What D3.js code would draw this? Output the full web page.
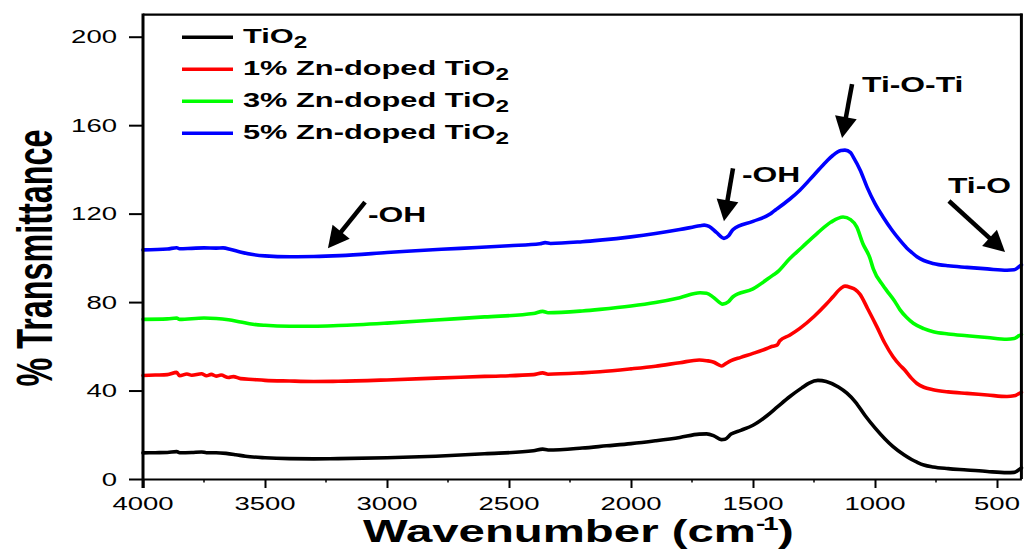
<!DOCTYPE html>
<html>
<head>
<meta charset="utf-8">
<script src="https://cdn.jsdelivr.net/npm/d3@7/dist/d3.min.js"></script>
<style>
  html, body { margin: 0; padding: 0; background: #fff; }
  svg { display: block; }
  text { font-family: "Liberation Sans", Arial, sans-serif; fill: #000; }
</style>
</head>
<body>
<svg id="chart" width="1024" height="549"></svg>
<script>
// FTIR spectra: [wavenumber (cm-1), % transmittance]
const tio2 = [
  [4000, 11.8], [3950, 11.9], [3900, 12.0], [3862, 12.4], [3850, 11.9], [3800, 12.0],
  [3760, 12.2], [3740, 11.9], [3700, 11.9], [3660, 11.6], [3620, 11.0], [3580, 10.3],
  [3500, 9.6], [3400, 9.2], [3300, 9.1], [3200, 9.2], [3000, 9.6], [2800, 10.3],
  [2600, 11.4], [2400, 12.8], [2362, 13.5], [2340, 13.1], [2200, 14.0], [2100, 15.0],
  [2000, 16.0], [1900, 17.3], [1800, 18.8], [1720, 20.3], [1690, 20.4], [1660, 19.5],
  [1630, 17.8], [1615, 18.0], [1590, 20.3], [1550, 22.0], [1500, 24.3], [1443, 28.6],
  [1400, 32.6], [1350, 37.2], [1300, 41.2], [1270, 43.4], [1234, 44.6], [1200, 44.1],
  [1150, 41.6], [1115, 38.8], [1080, 34.8], [1040, 28.6], [1000, 23.1], [960, 18.2],
  [926, 14.6], [880, 10.8], [850, 8.8], [828, 7.6], [800, 6.3], [762, 5.4],
  [700, 4.7], [623, 4.1], [540, 3.4], [459, 2.9], [430, 3.0], [410, 4.2], [400, 5.0]
];

const zn1 = [
  [4000, 46.8], [3950, 47.0], [3900, 47.2], [3862, 48.2], [3850, 46.7], [3820, 47.5],
  [3800, 46.9], [3760, 47.6], [3740, 46.7], [3720, 47.3], [3700, 46.5], [3680, 47.0],
  [3650, 45.9], [3630, 46.3], [3600, 45.4], [3550, 45.0], [3500, 44.6], [3400, 44.3],
  [3300, 44.1], [3200, 44.2], [3000, 44.8], [2800, 45.6], [2600, 46.4], [2400, 47.2],
  [2362, 48.0], [2340, 47.4], [2200, 48.0], [2127, 48.5], [2000, 49.8], [1900, 51.0],
  [1800, 52.6], [1720, 53.8], [1690, 53.5], [1660, 52.8], [1640, 51.6], [1628, 51.1],
  [1610, 52.3], [1590, 53.5], [1550, 55.0], [1500, 56.8], [1443, 59.0], [1420, 60.0],
  [1402, 60.5], [1390, 62.5], [1350, 65.0], [1308, 68.1], [1250, 73.5], [1200, 79.0],
  [1172, 82.4], [1140, 86.2], [1123, 87.2], [1100, 86.6], [1080, 85.6], [1062, 83.6],
  [1030, 77.0], [992, 68.8], [960, 61.5], [926, 55.3], [898, 51.5], [880, 49.5],
  [850, 45.5], [828, 43.2], [800, 41.5], [762, 40.4], [700, 39.4], [623, 38.7],
  [540, 38.0], [459, 37.3], [430, 37.6], [410, 38.6], [400, 39.2]
];

const zn3 = [
  [4000, 72.2], [3900, 72.4], [3862, 72.8], [3850, 72.2], [3750, 72.8], [3700, 72.6],
  [3650, 72.0], [3600, 71.0], [3550, 70.0], [3500, 69.5], [3400, 69.1], [3300, 69.1],
  [3200, 69.4], [3000, 70.5], [2800, 71.9], [2600, 73.3], [2400, 74.8], [2362, 75.8],
  [2340, 75.2], [2200, 76.0], [2127, 76.7], [2000, 78.2], [1900, 79.8], [1800, 82.0],
  [1717, 84.2], [1690, 84.0], [1660, 82.0], [1624, 79.1], [1600, 80.2], [1582, 82.4],
  [1500, 86.0], [1418, 92.2], [1400, 93.6], [1350, 99.6], [1300, 104.7], [1238, 111.0],
  [1180, 116.2], [1131, 118.5], [1100, 117.3], [1075, 114.0], [1050, 106.5], [1021, 100.0],
  [1007, 95.0], [967, 87.5], [952, 85.2], [920, 80.5], [898, 76.6], [870, 73.0],
  [843, 70.4], [800, 68.0], [761, 66.6], [700, 65.6], [623, 64.8], [540, 64.0],
  [460, 63.2], [430, 63.5], [410, 64.8], [400, 65.3]
];

const zn5 = [
  [4000, 103.6], [3900, 104.0], [3862, 104.6], [3850, 104.1], [3800, 104.3], [3750, 104.5],
  [3700, 104.4], [3672, 104.5], [3640, 103.8], [3602, 102.7], [3550, 101.5], [3500, 100.9],
  [3398, 100.5], [3300, 100.6], [3193, 101.0], [3000, 102.4], [2918, 103.0], [2700, 104.3],
  [2500, 105.5], [2373, 106.4], [2352, 106.9], [2330, 106.5], [2200, 107.3], [2127, 108.0],
  [2000, 109.5], [1900, 111.0], [1800, 112.8], [1717, 114.5], [1700, 114.8], [1680, 114.2],
  [1650, 111.5], [1619, 108.8], [1600, 110.0], [1582, 112.8], [1500, 116.5], [1430, 119.8],
  [1418, 120.8], [1405, 121.9], [1400, 122.3], [1350, 126.5], [1308, 130.6], [1250, 137.5],
  [1200, 143.5], [1172, 146.4], [1140, 148.5], [1123, 148.7], [1100, 147.6], [1090, 145.8],
  [1060, 139.5], [1033, 132.1], [1000, 124.5], [967, 118.5], [930, 112.5], [898, 108.0],
  [870, 104.5], [850, 102.5], [828, 100.5], [800, 98.8], [762, 97.5], [700, 96.4],
  [623, 95.7], [540, 95.0], [459, 94.4], [430, 94.6], [410, 96.0], [400, 96.8]
];

const seriesNames = ["TiO", "1% Zn-doped TiO", "3% Zn-doped TiO", "5% Zn-doped TiO"];
const seriesColors = ["#000000", "#ff0000", "#00ff00", "#0000ff"];
const seriesData = [tio2, zn1, zn3, zn5];

const xTicks = [4000, 3500, 3000, 2500, 2000, 1500, 1000, 500];
const xMinorTicks = [3750, 3250, 2750, 2250, 1750, 1250, 750];
const yTicks = [0, 40, 80, 120, 160, 200];

// Band assignments: label anchor and arrow (from -> tip), in data units
const bandLabels = [
  { text: "-OH",     x: 3078, y: 116.2, from: [3090, 125.2], tip: [3242, 104.4] },
  { text: "-OH",     x: 1545, y: 134.3, from: [1582, 140.5], tip: [1619, 116.6] },
  { text: "Ti-O-Ti", x: 1053, y: 175.0, from: [1094, 178.6], tip: [1135, 154.2] },
  { text: "Ti-O",    x: 701,  y: 129.3, from: [697, 125.7],  tip: [467, 102.6] }
];

const SX = 1.48; // horizontal stretch of all lettering

const svg = d3.select("#chart");
svg.append("rect").attr("width", 1024).attr("height", 549).attr("fill", "#fff");

const plotL = 143, plotR = 1021.4, plotT = 14.6, plotB = 479;
const x = d3.scaleLinear().domain([4000, 400]).range([plotL, plotR]);
const y = d3.scaleLinear().domain([0, 210]).range([plotB, plotT]);

// Spectra
const line = d3.line()
  .x(d => x(d[0]))
  .y(d => y(d[1]))
  .curve(d3.curveMonotoneX);

svg.append("g").selectAll("path")
  .data(seriesData)
  .join("path")
  .attr("d", line)
  .attr("fill", "none")
  .attr("stroke", (d, i) => seriesColors[i])
  .attr("stroke-width", 3.6)
  .attr("stroke-linejoin", "round")
  .attr("stroke-linecap", "round");

// Frame
svg.append("line").attr("x1", plotL).attr("x2", plotR + 1).attr("y1", plotT).attr("y2", plotT)
  .attr("stroke", "#000").attr("stroke-width", 2.2);
svg.append("line").attr("x1", plotR).attr("x2", plotR).attr("y1", plotT - 1).attr("y2", plotB)
  .attr("stroke", "#000").attr("stroke-width", 3);

// X axis
const xAxis = d3.axisBottom(x).tickValues(xTicks).tickSize(9).tickFormat("").tickSizeOuter(0);
const gx = svg.append("g").attr("transform", `translate(0,${plotB})`).call(xAxis);
gx.select(".domain").attr("stroke-width", 2.2);
gx.selectAll(".tick line").attr("stroke-width", 2);
svg.append("g").selectAll("line")
  .data(xMinorTicks).join("line")
  .attr("x1", d => x(d)).attr("x2", d => x(d))
  .attr("y1", plotB).attr("y2", plotB + 3.5)
  .attr("stroke", "#000").attr("stroke-width", 1.5);

svg.append("g").selectAll("text")
  .data(xTicks).join("text")
  .attr("transform", d => `translate(${x(d)},510) scale(${SX},1)`)
  .attr("text-anchor", "middle")
  .style("font-size", "18.6px")
  .text(d => d);

// Y axis
const yAxis = d3.axisLeft(y).tickValues(yTicks).tickSize(14).tickFormat("").tickSizeOuter(0);
const gy = svg.append("g").attr("transform", `translate(${plotL},0)`).call(yAxis);
gy.select(".domain").attr("stroke-width", 3).attr("d", `M0,${plotT - 1}V${plotB + 9}`);
gy.selectAll(".tick line").attr("stroke-width", 2);

svg.append("g").selectAll("text")
  .data(yTicks).join("text")
  .attr("transform", d => `translate(117,${y(d) + 6.6}) scale(${SX},1)`)
  .attr("text-anchor", "end")
  .style("font-size", "18.6px")
  .text(d => d);

// Axis titles
const xt = svg.append("text")
  .attr("transform", `translate(363,542) scale(${SX},1)`)
  .style("font-size", "32px").style("font-weight", "bold");
xt.append("tspan").text("Wavenumber (cm");
xt.append("tspan").attr("dy", -12).style("font-size", "19px").style("letter-spacing", "-1.5px").text("-1");
xt.append("tspan").attr("dy", 12).attr("dx", 1).text(")");

svg.append("text")
  .attr("transform", `translate(52,258) scale(${SX},1) rotate(-90)`)
  .attr("text-anchor", "middle")
  .attr("textLength", 257)
  .attr("lengthAdjust", "spacingAndGlyphs")
  .style("font-size", "34px").style("font-weight", "bold")
  .text("% Transmittance");

// Legend
const legendY = [37.3, 69.3, 101.2, 133.3];
const lg = svg.append("g").selectAll("g")
  .data(seriesNames).join("g")
  .attr("transform", (d, i) => `translate(0,${legendY[i]})`);
lg.append("line")
  .attr("x1", 182).attr("x2", 233).attr("y1", 0).attr("y2", 0)
  .attr("stroke", (d, i) => seriesColors[i]).attr("stroke-width", 3.6);
const lt = lg.append("text")
  .attr("transform", `translate(243,5.6) scale(${SX},1)`)
  .style("font-size", "20.8px").style("font-weight", "bold");
lt.append("tspan").text(d => d);
lt.append("tspan").attr("dy", 5.5).style("font-size", "16.5px").text("2");

// Band annotations
const ann = svg.append("g");
bandLabels.forEach(b => {
  const x0 = x(b.from[0]), y0 = y(b.from[1]);
  const x1 = x(b.tip[0]), y1 = y(b.tip[1]);
  const dx = x1 - x0, dy = y1 - y0, len = Math.hypot(dx, dy);
  const ux = dx / len, uy = dy / len;
  const headLen = 21, headHalf = 11;
  const bx = x1 - ux * headLen, by = y1 - uy * headLen;
  ann.append("line")
    .attr("x1", x0).attr("y1", y0).attr("x2", bx + ux * 2).attr("y2", by + uy * 2)
    .attr("stroke", "#000").attr("stroke-width", 4.5);
  ann.append("path")
    .attr("d", `M${x1},${y1}L${bx - uy * headHalf},${by + ux * headHalf}L${bx + uy * headHalf},${by - ux * headHalf}Z`)
    .attr("fill", "#000");
  ann.append("text")
    .attr("transform", `translate(${x(b.x)},${y(b.y)}) scale(${SX},1)`)
    .style("font-size", "21.5px").style("font-weight", "bold")
    .text(b.text);
});
</script>
</body>
</html>
